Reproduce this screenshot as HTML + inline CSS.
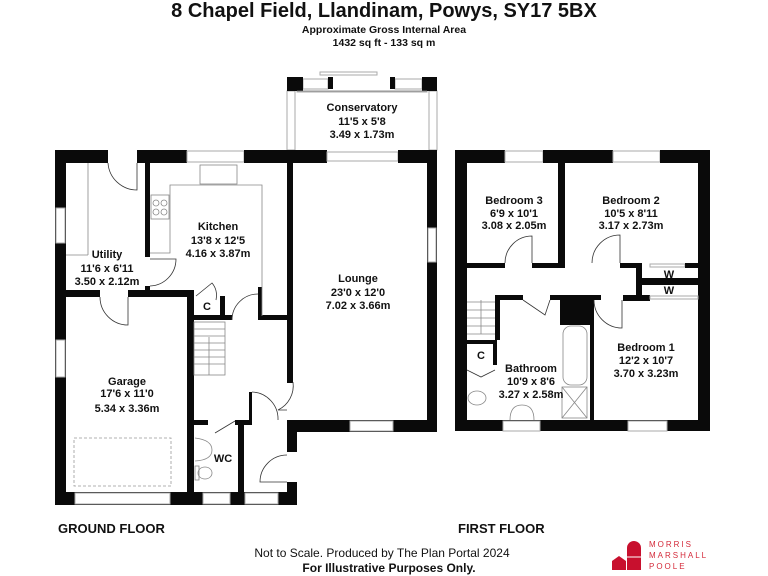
<!DOCTYPE html>
<html><head><meta charset="utf-8"><style>
html,body{margin:0;padding:0;background:#fff;}
svg{display:block;}
text{font-family:"Liberation Sans",Arial,sans-serif;fill:#111;}
.l{font-size:11px;font-weight:bold;text-anchor:middle;}
.w{fill:#0a0a0a;}
.win{fill:#fff;stroke:#aaa;stroke-width:1;}
.t{fill:none;stroke:#888;stroke-width:0.8;}
.d{fill:none;stroke:#333;stroke-width:0.8;}
</style></head><body>
<svg width="768" height="576" viewBox="0 0 768 576" xmlns="http://www.w3.org/2000/svg">
<rect width="768" height="576" fill="#fff"/>
<text x="384" y="17" style="font-size:20px;font-weight:bold;text-anchor:middle">8 Chapel Field, Llandinam, Powys, SY17 5BX</text>
<text x="384" y="33" style="font-size:10.5px;font-weight:bold;text-anchor:middle">Approximate Gross Internal Area</text>
<text x="384" y="46" style="font-size:10.5px;font-weight:bold;text-anchor:middle">1432 sq ft - 133 sq m</text>

<!-- GROUND FLOOR -->
<!-- conservatory -->
<rect class="win" x="297" y="91" width="130" height="1" stroke="none"/>
<rect class="win" x="287" y="91" width="8" height="59"/>
<rect class="win" x="429" y="91" width="8" height="59"/>
<rect class="win" x="303" y="79" width="25" height="10"/>
<rect class="win" x="395" y="79" width="27" height="10"/>
<rect class="win" x="320" y="72" width="57" height="3"/>
<rect class="w" x="287" y="77" width="16" height="14"/>
<rect class="w" x="328" y="77" width="5" height="12"/>
<rect class="w" x="390" y="77" width="5" height="12"/>
<rect class="w" x="422" y="77" width="15" height="14"/>
<line class="t" x1="297" y1="91" x2="427" y2="91"/>

<!-- top walls -->
<rect class="w" x="55" y="150" width="53" height="13"/>
<rect class="w" x="137" y="150" width="50" height="13"/>
<rect class="win" x="187" y="151" width="57" height="11"/>
<rect class="w" x="244" y="150" width="83" height="13"/>
<rect class="win" x="327" y="152" width="71" height="9"/>
<rect class="w" x="398" y="150" width="39" height="13"/>
<!-- left wall -->
<rect class="w" x="55" y="150" width="11" height="355"/>
<rect class="win" x="56" y="208" width="9" height="35"/>
<rect class="win" x="56" y="340" width="9" height="37"/>
<!-- lounge -->
<rect class="w" x="427" y="150" width="10" height="282"/>
<rect class="win" x="428" y="228" width="8" height="34"/>
<rect class="w" x="287" y="420" width="150" height="12"/>
<rect class="win" x="350" y="421" width="43" height="10"/>
<rect class="w" x="287" y="163" width="6" height="220"/>
<rect class="w" x="287" y="420" width="10" height="32"/>
<rect class="w" x="287" y="482" width="10" height="23"/>
<!-- bottom -->
<rect class="w" x="55" y="492" width="242" height="13"/>
<rect class="win" x="75" y="493" width="95" height="11"/>
<rect class="win" x="203" y="493" width="27" height="11"/>
<rect class="win" x="245" y="493" width="33" height="11"/>
<!-- interior -->
<rect class="w" x="187" y="290" width="7" height="215"/>
<rect class="w" x="55" y="290" width="45" height="7"/>
<rect class="w" x="128" y="290" width="62" height="7"/>
<rect class="w" x="145" y="163" width="5" height="94"/>
<rect class="w" x="145" y="286" width="5" height="10"/>
<rect class="w" x="220" y="296" width="5" height="23"/>
<rect class="w" x="190" y="315" width="42" height="5"/>
<rect class="w" x="258" y="287" width="4" height="32"/>
<rect class="w" x="258" y="315" width="32" height="5"/>
<rect class="w" x="194" y="420" width="14" height="5"/>
<rect class="w" x="235" y="420" width="17" height="5"/>
<rect class="w" x="238" y="420" width="6" height="85"/>
<rect class="w" x="249" y="392" width="3" height="30"/>
<!-- kitchen fittings -->
<polyline class="t" points="150,253 170,253 170,185 262,185 262,316"/>
<rect class="t" x="200" y="165" width="37" height="19"/>
<rect class="t" x="151" y="195" width="18" height="24"/>
<circle class="t" cx="156" cy="203" r="3"/><circle class="t" cx="164" cy="203" r="3"/>
<circle class="t" cx="156" cy="212" r="3"/><circle class="t" cx="164" cy="212" r="3"/>
<line class="t" x1="88" y1="163" x2="88" y2="255"/>
<line class="t" x1="66" y1="255" x2="88" y2="255"/>
<!-- stairs -->
<rect class="t" x="194" y="322" width="31" height="53"/>
<g class="t"><line x1="194" y1="329" x2="225" y2="329"/><line x1="194" y1="336" x2="225" y2="336"/><line x1="194" y1="343" x2="225" y2="343"/><line x1="194" y1="350" x2="225" y2="350"/><line x1="194" y1="357" x2="225" y2="357"/><line x1="194" y1="364" x2="225" y2="364"/><line x1="209" y1="337" x2="209" y2="375"/></g>
<!-- garage door dashed -->
<rect x="74" y="438" width="97" height="48" fill="none" stroke="#999" stroke-width="0.8" stroke-dasharray="3,2"/>
<!-- doors -->
<path class="d" d="M108,163 A29,29 0 0 0 137,190 L137,163"/>
<path class="d" d="M150,286 A27,27 0 0 0 176,259 L150,259"/>
<path class="d" d="M100,297 A28,28 0 0 0 128,325 L128,297"/>
<path class="d" d="M232,320 A26,26 0 0 1 258,294"/>
<path class="d" d="M293,382 A27,27 0 0 1 278,410 L287,410"/>
<path class="d" d="M252,392 A27,27 0 0 1 278,420"/>
<path class="d" d="M287,455 A27,27 0 0 0 260,482 L287,482"/>
<path class="d" d="M196,296 L212,283 Q218,290 216,300"/>
<line class="d" x1="215" y1="433" x2="235" y2="421"/>
<!-- WC fittings -->
<path class="t" d="M195,438 Q212,440 212,450 Q212,460 195,461"/>
<rect class="t" x="195" y="466" width="4" height="14"/>
<ellipse class="t" cx="205" cy="473" rx="7" ry="6"/>

<text class="l" x="362" y="111">Conservatory</text>
<text class="l" x="362" y="125">11'5 x 5'8</text>
<text class="l" x="362" y="138">3.49 x 1.73m</text>
<text class="l" x="218" y="230">Kitchen</text>
<text class="l" x="218" y="244">13'8 x 12'5</text>
<text class="l" x="218" y="257">4.16 x 3.87m</text>
<text class="l" x="107" y="258">Utility</text>
<text class="l" x="107" y="272">11'6 x 6'11</text>
<text class="l" x="107" y="285">3.50 x 2.12m</text>
<text class="l" x="358" y="282">Lounge</text>
<text class="l" x="358" y="296">23'0 x 12'0</text>
<text class="l" x="358" y="309">7.02 x 3.66m</text>
<text class="l" x="207" y="310">C</text>
<text class="l" x="127" y="385">Garage</text>
<text class="l" x="127" y="397">17'6 x 11'0</text>
<text class="l" x="127" y="412">5.34 x 3.36m</text>
<text class="l" x="223" y="462">WC</text>

<!-- FIRST FLOOR -->
<rect class="w" x="455" y="150" width="50" height="13"/>
<rect class="win" x="505" y="151" width="38" height="11"/>
<rect class="w" x="543" y="150" width="70" height="13"/>
<rect class="win" x="613" y="151" width="47" height="11"/>
<rect class="w" x="660" y="150" width="50" height="13"/>
<rect class="w" x="455" y="150" width="12" height="281"/>
<rect class="w" x="698" y="150" width="12" height="281"/>
<rect class="w" x="455" y="420" width="255" height="11"/>
<rect class="win" x="503" y="421" width="37" height="10"/>
<rect class="win" x="628" y="421" width="39" height="10"/>
<rect class="w" x="558" y="163" width="7" height="105"/>
<rect class="w" x="467" y="263" width="38" height="5"/>
<rect class="w" x="532" y="263" width="33" height="5"/>
<rect class="w" x="620" y="263" width="22" height="5"/>
<rect class="win" x="650" y="264" width="35" height="3"/>
<rect class="w" x="685" y="263" width="13" height="5"/>
<rect class="w" x="636" y="263" width="6" height="37"/>
<rect class="w" x="642" y="278" width="56" height="7"/>
<rect class="w" x="623" y="295" width="27" height="6"/>
<rect class="win" x="650" y="296" width="48" height="3"/>
<rect class="w" x="495" y="295" width="5" height="45"/>
<rect class="w" x="500" y="295" width="23" height="5"/>
<rect class="w" x="550" y="295" width="10" height="5"/>
<rect class="w" x="560" y="295" width="33" height="30"/>
<rect class="w" x="590" y="300" width="4" height="120"/>
<rect class="w" x="593" y="295" width="8" height="5"/>
<rect class="w" x="467" y="340" width="30" height="4"/>
<rect class="w" x="493" y="340" width="4" height="25"/>
<!-- stairs -->
<g class="t"><line x1="467" y1="302" x2="495" y2="302"/><line x1="467" y1="310" x2="495" y2="310"/><line x1="467" y1="318" x2="495" y2="318"/><line x1="467" y1="326" x2="495" y2="326"/><line x1="467" y1="334" x2="495" y2="334"/><line x1="481" y1="300" x2="481" y2="334"/></g>
<!-- bath & shower -->
<rect class="t" x="563" y="326" width="24" height="59" rx="8"/>
<rect class="t" x="562" y="387" width="25" height="31"/>
<line class="t" x1="562" y1="387" x2="587" y2="418"/><line class="t" x1="587" y1="387" x2="562" y2="418"/>
<ellipse class="t" cx="477" cy="398" rx="9" ry="7"/>
<path class="t" d="M510,420 Q510,405 522,405 Q534,405 534,420"/>
<!-- doors -->
<path class="d" d="M505,263 A27,27 0 0 1 532,236 L532,263"/>
<path class="d" d="M592,263 A28,28 0 0 1 620,235 L620,263"/>
<path class="d" d="M594,300 A28,28 0 0 0 622,328 L622,300"/>
<path class="d" d="M523,300 L545,315 L550,300"/>
<path class="d" d="M467,370 L481,377 L495,370"/>

<text class="l" x="514" y="204">Bedroom 3</text>
<text class="l" x="514" y="217">6'9 x 10'1</text>
<text class="l" x="514" y="229">3.08 x 2.05m</text>
<text class="l" x="631" y="204">Bedroom 2</text>
<text class="l" x="631" y="217">10'5 x 8'11</text>
<text class="l" x="631" y="229">3.17 x 2.73m</text>
<text class="l" x="669" y="278">W</text>
<text class="l" x="669" y="294">W</text>
<text class="l" x="481" y="359">C</text>
<text class="l" x="531" y="372">Bathroom</text>
<text class="l" x="531" y="385">10'9 x 8'6</text>
<text class="l" x="531" y="398">3.27 x 2.58m</text>
<text class="l" x="646" y="351">Bedroom 1</text>
<text class="l" x="646" y="364">12'2 x 10'7</text>
<text class="l" x="646" y="377">3.70 x 3.23m</text>

<text x="58" y="533" style="font-size:13px;font-weight:bold">GROUND FLOOR</text>
<text x="458" y="533" style="font-size:13px;font-weight:bold">FIRST FLOOR</text>
<text x="382" y="557" style="font-size:12px;text-anchor:middle">Not to Scale. Produced by The Plan Portal 2024</text>
<text x="389" y="572" style="font-size:12px;font-weight:bold;text-anchor:middle">For Illustrative Purposes Only.</text>

<!-- logo -->
<path d="M627,570 L627,548 A7,7 0 0 1 641,548 L641,570 Z" fill="#c8102e"/>
<line x1="627" y1="557" x2="641" y2="557" stroke="#fff" stroke-width="1"/>
<path d="M612,570 L612,561 L619,556 L626,561 L626,570 Z" fill="#c8102e"/>
<g style="font-size:8px;letter-spacing:2px" fill="#d42a3a">
<text x="649" y="547" style="fill:#d42a3a">MORRIS</text>
<text x="649" y="558" style="fill:#d42a3a">MARSHALL</text>
<text x="649" y="569" style="fill:#d42a3a">POOLE</text>
</g>
</svg>
</body></html>
